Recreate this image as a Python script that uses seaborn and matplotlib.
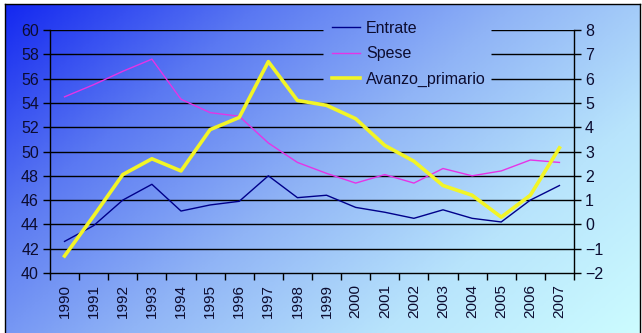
import numpy as np
import pandas as pd
import matplotlib
matplotlib.use("Agg")
import matplotlib.pyplot as plt
import seaborn as sns
from matplotlib.colors import LinearSegmentedColormap
from matplotlib.lines import Line2D

years = [str(y) for y in range(1990, 2008)]
entrate = [42.6, 43.9, 46.0, 47.3, 45.1, 45.6, 45.9, 48.0, 46.2, 46.4,
           45.4, 45.0, 44.5, 45.2, 44.5, 44.2, 46.0, 47.2]
spese = [54.5, 55.5, 56.6, 57.6, 54.3, 53.2, 52.9, 50.7, 49.1, 48.2,
         47.4, 48.1, 47.4, 48.6, 48.0, 48.4, 49.3, 49.1]
avanzo = [-1.3, 0.35, 2.05, 2.7, 2.2, 3.9, 4.4, 6.7, 5.1, 4.9,
          4.35, 3.25, 2.6, 1.6, 1.2, 0.3, 1.2, 3.15]
left_ticks = [40, 42, 44, 46, 48, 50, 52, 54, 56, 58, 60]
right_ticks = [-2, -1, 0, 1, 2, 3, 4, 5, 6, 7, 8]

df = pd.DataFrame({"idx": np.arange(len(years)), "Entrate": entrate,
                   "Spese": spese, "Avanzo_primario": avanzo})

plt.rcParams['font.family'] = ['Liberation Sans', 'DejaVu Sans']
TXT = "#0c0c30"

W, H = 642, 333
fig = plt.figure(figsize=(W / 100, H / 100), dpi=100)
fig.patch.set_facecolor("white")

# gradient background
bg = fig.add_axes([5 / W, 0, 635 / W, 329 / H])
cmap = LinearSegmentedColormap.from_list(
    "g", ["#1428f0", "#5a78f2", "#90b4f6", "#b8e4fc", "#ccfcff"])
gx, gy = np.meshgrid(np.linspace(0, 1, 400), np.linspace(0, 1, 200))
grad = 0.62 * gx + 0.38 * gy
bg.imshow(grad, cmap=cmap, aspect="auto", extent=[0, 1, 1, 0], vmin=0, vmax=1)
bg.set_xticks([]); bg.set_yticks([])
for s in ["left", "top", "right"]:
    bg.spines[s].set_color("black"); bg.spines[s].set_linewidth(1)
bg.spines["bottom"].set_visible(False)

ax = fig.add_axes([50 / W, (H - 273) / H, 524 / W, 243 / H])
ax.patch.set_alpha(0)
ax2 = ax.twinx()

# gridlines (interrupted behind the legend)
gap0, gap1 = (323 - 50) / 524, (491 - 50) / 524
ytr = ax.get_yaxis_transform()
for t in left_ticks[1:]:
    if t >= 56:
        ax.hlines(t, 0, gap0, transform=ytr, color="black", lw=1, zorder=0.5)
        ax.hlines(t, gap1, 1, transform=ytr, color="black", lw=1, zorder=0.5)
    else:
        ax.hlines(t, 0, 1, transform=ytr, color="black", lw=1, zorder=0.5)

sns.lineplot(data=df, x="idx", y="Entrate", ax=ax, color="#00008a", lw=1.0, legend=False)
sns.lineplot(data=df, x="idx", y="Spese", ax=ax, color="#e633e6", lw=1.0, legend=False)
sns.lineplot(data=df, x="idx", y="Avanzo_primario", ax=ax2, color="#f2f526", lw=2.6, legend=False)

ax.set_ylim(40, 60)
ax2.set_ylim(-2, 8)
ax.set_xlim(-0.5, len(years) - 0.5)
ax.set_yticks(left_ticks)
ax2.set_yticks(right_ticks)
ax.set_xticks(np.arange(len(years)))
ax.set_xticklabels(years, rotation=90, fontsize=11)
ax.set_xticks(np.arange(len(years) + 1) - 0.5, minor=True)
ax.tick_params(axis="x", which="major", length=0, pad=8, labelcolor=TXT)
ax.tick_params(axis="x", which="minor", length=5, width=1, color="black")
ax.tick_params(axis="y", length=5, width=1, labelsize=11.5, pad=3, color="black", labelcolor=TXT)
ax2.tick_params(axis="y", length=5, width=1, labelsize=11.5, pad=3, color="black", labelcolor=TXT)
ax.set_xlabel(""); ax.set_ylabel(""); ax2.set_ylabel("")
for a in (ax, ax2):
    a.spines["top"].set_visible(False)
ax.spines["right"].set_visible(False)
ax2.spines["left"].set_visible(False)
ax2.spines["bottom"].set_visible(False)
ax.spines["left"].set_linewidth(1)
ax.spines["bottom"].set_linewidth(1)
ax2.spines["right"].set_linewidth(1)

handles = [Line2D([], [], color="#00008a", lw=1.0),
           Line2D([], [], color="#e633e6", lw=1.0),
           Line2D([], [], color="#f2f526", lw=2.6)]
leg = ax2.legend(handles, ["Entrate", "Spese", "Avanzo_primario"],
                 loc="upper left", bbox_to_anchor=(319 / W, 1 - 8 / H),
                 bbox_transform=fig.transFigure, fontsize=11.5,
                 frameon=False, borderpad=0.3,
                 handlelength=1.75, handletextpad=0.4, labelspacing=0.66)
for t in leg.get_texts():
    t.set_color(TXT)

fig.savefig("out.png", dpi=100)
